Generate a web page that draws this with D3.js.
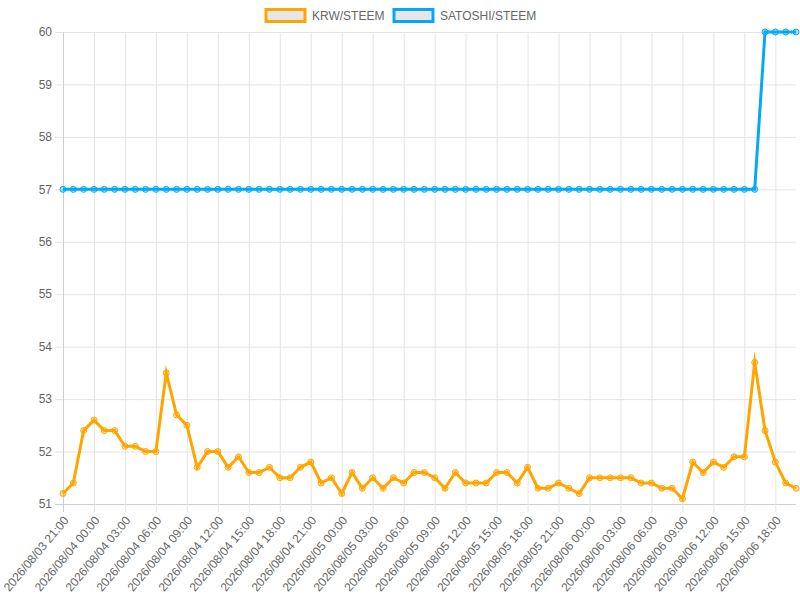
<!DOCTYPE html>
<html>
<head>
<meta charset="utf-8">
<script src="https://cdn.jsdelivr.net/npm/d3@7"></script>
<style>
  html, body { margin: 0; padding: 0; background: #fff; }
  svg { display: block; font-family: "Liberation Sans", Arial, Helvetica, sans-serif; }
</style>
</head>
<body>
<svg id="chart" width="800" height="600"></svg>
<script>
const categories = [
  "2026/08/03 21:00","2026/08/03 22:00","2026/08/03 23:00",
  "2026/08/04 00:00","2026/08/04 01:00","2026/08/04 02:00","2026/08/04 03:00","2026/08/04 04:00","2026/08/04 05:00",
  "2026/08/04 06:00","2026/08/04 07:00","2026/08/04 08:00","2026/08/04 09:00","2026/08/04 10:00","2026/08/04 11:00",
  "2026/08/04 12:00","2026/08/04 13:00","2026/08/04 14:00","2026/08/04 15:00","2026/08/04 16:00","2026/08/04 17:00",
  "2026/08/04 18:00","2026/08/04 19:00","2026/08/04 20:00","2026/08/04 21:00","2026/08/04 22:00","2026/08/04 23:00",
  "2026/08/05 00:00","2026/08/05 01:00","2026/08/05 02:00","2026/08/05 03:00","2026/08/05 04:00","2026/08/05 05:00",
  "2026/08/05 06:00","2026/08/05 07:00","2026/08/05 08:00","2026/08/05 09:00","2026/08/05 10:00","2026/08/05 11:00",
  "2026/08/05 12:00","2026/08/05 13:00","2026/08/05 14:00","2026/08/05 15:00","2026/08/05 16:00","2026/08/05 17:00",
  "2026/08/05 18:00","2026/08/05 19:00","2026/08/05 20:00","2026/08/05 21:00","2026/08/05 22:00","2026/08/05 23:00",
  "2026/08/06 00:00","2026/08/06 01:00","2026/08/06 02:00","2026/08/06 03:00","2026/08/06 04:00","2026/08/06 05:00",
  "2026/08/06 06:00","2026/08/06 07:00","2026/08/06 08:00","2026/08/06 09:00","2026/08/06 10:00","2026/08/06 11:00",
  "2026/08/06 12:00","2026/08/06 13:00","2026/08/06 14:00","2026/08/06 15:00","2026/08/06 16:00","2026/08/06 17:00",
  "2026/08/06 18:00","2026/08/06 19:00","2026/08/06 20:00"
];

const tickLabels = [
  "2026/08/03 21:00","2026/08/04 00:00","2026/08/04 03:00","2026/08/04 06:00","2026/08/04 09:00","2026/08/04 12:00",
  "2026/08/04 15:00","2026/08/04 18:00","2026/08/04 21:00","2026/08/05 00:00","2026/08/05 03:00","2026/08/05 06:00",
  "2026/08/05 09:00","2026/08/05 12:00","2026/08/05 15:00","2026/08/05 18:00","2026/08/05 21:00","2026/08/06 00:00",
  "2026/08/06 03:00","2026/08/06 06:00","2026/08/06 09:00","2026/08/06 12:00","2026/08/06 15:00","2026/08/06 18:00"
];

const yTicks = [51, 52, 53, 54, 55, 56, 57, 58, 59, 60];

const krwSteem = [
  51.2, 51.4, 52.4, 52.6, 52.4, 52.4, 52.1, 52.1, 52.0, 52.0,
  53.5, 52.7, 52.5, 51.7, 52.0, 52.0, 51.7, 51.9, 51.6, 51.6,
  51.7, 51.5, 51.5, 51.7, 51.8, 51.4, 51.5, 51.2, 51.6, 51.3,
  51.5, 51.3, 51.5, 51.4, 51.6, 51.6, 51.5, 51.3, 51.6, 51.4,
  51.4, 51.4, 51.6, 51.6, 51.4, 51.7, 51.3, 51.3, 51.4, 51.3,
  51.2, 51.5, 51.5, 51.5, 51.5, 51.5, 51.4, 51.4, 51.3, 51.3,
  51.1, 51.8, 51.6, 51.8, 51.7, 51.9, 51.9, 53.7, 52.4, 51.8,
  51.4, 51.3
];

const satoshiSteem = [
  57, 57, 57, 57, 57, 57, 57, 57, 57, 57,
  57, 57, 57, 57, 57, 57, 57, 57, 57, 57,
  57, 57, 57, 57, 57, 57, 57, 57, 57, 57,
  57, 57, 57, 57, 57, 57, 57, 57, 57, 57,
  57, 57, 57, 57, 57, 57, 57, 57, 57, 57,
  57, 57, 57, 57, 57, 57, 57, 57, 57, 57,
  57, 57, 57, 57, 57, 57, 57, 57, 60, 60,
  60, 60
];

const seriesNames = ["KRW/STEEM", "SATOSHI/STEEM"];

(function () {
  const series = [
    { name: seriesNames[0], values: krwSteem, color: "#FFA500", fill: "rgba(255,165,0,0.35)" },
    { name: seriesNames[1], values: satoshiSteem, color: "#03A9F4", fill: "rgba(3,169,244,0.35)" }
  ];

  const svg = d3.select("#chart");
  const plotLeft = 63, plotRight = 796, plotTop = 32, plotBottom = 504;

  const x = d3.scalePoint().domain(categories).range([plotLeft, plotRight]);
  const y = d3.scaleLinear().domain([51, 60]).range([plotBottom, plotTop]);

  const gridColor = "#e5e5e5";
  const textColor = "#666";

  // horizontal grid + y ticks
  const gy = svg.append("g");
  gy.selectAll("line").data(yTicks).join("line")
    .attr("x1", plotLeft - 8).attr("x2", plotRight)
    .attr("y1", d => y(d) + 0.5).attr("y2", d => y(d) + 0.5)
    .attr("stroke", d => d === 51 ? "#cfcfcf" : gridColor).attr("stroke-width", 1);
  gy.selectAll("text").data(yTicks).join("text")
    .attr("x", plotLeft - 11).attr("y", d => y(d)).attr("dy", "0.35em")
    .attr("text-anchor", "end").attr("font-size", 12).attr("fill", textColor)
    .text(d => d);

  // vertical grid + x ticks
  const gx = svg.append("g");
  gx.selectAll("line").data(tickLabels).join("line")
    .attr("x1", d => x(d) + 0.5).attr("x2", d => x(d) + 0.5)
    .attr("y1", plotTop).attr("y2", plotBottom + 8)
    .attr("stroke", (d, i) => i === 0 ? "#cfcfcf" : gridColor).attr("stroke-width", 1);
  gx.selectAll("text").data(tickLabels).join("text")
    .attr("transform", d => `translate(${x(d) + 3},${plotBottom + 14}) rotate(-50)`)
    .attr("dy", "0.35em")
    .attr("text-anchor", "end").attr("font-size", 12).attr("fill", textColor)
    .text(d => d);

  // lines
  const line = d3.line().x((d, i) => x(categories[i])).y(d => y(d));
  [series[1], series[0]].forEach(s => {
    const g = svg.append("g");
    g.append("path").datum(s.values)
      .attr("d", line).attr("fill", "none")
      .attr("stroke", s.color).attr("stroke-width", 3)
      .attr("stroke-linejoin", "miter").attr("stroke-miterlimit", 10);
    g.selectAll("circle").data(s.values).join("circle")
      .attr("cx", (d, i) => x(categories[i])).attr("cy", d => y(d))
      .attr("r", 3).attr("fill", s.fill)
      .attr("stroke", s.color).attr("stroke-width", 1);
  });

  // legend
  const legend = svg.append("g");
  const legendItems = [
    { name: seriesNames[0], color: series[0].color, x: 266 },
    { name: seriesNames[1], color: series[1].color, x: 394 }
  ];
  legendItems.forEach(it => {
    legend.append("rect")
      .attr("x", it.x).attr("y", 9.5).attr("width", 39).attr("height", 12)
      .attr("fill", "#e6e6e6").attr("stroke", it.color).attr("stroke-width", 3);
    legend.append("text")
      .attr("x", it.x + 46).attr("y", 15.5).attr("dy", "0.35em")
      .attr("font-size", 12).attr("fill", textColor)
      .text(it.name);
  });
})();
</script>
</body>
</html>
